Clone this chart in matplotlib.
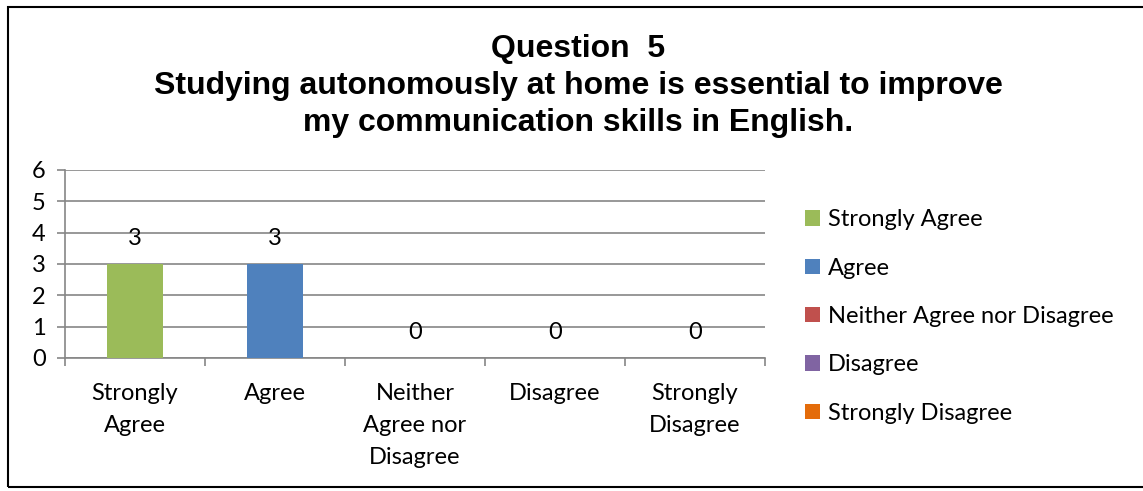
import matplotlib.pyplot as plt
from matplotlib.patches import Rectangle, Patch

categories = ["Strongly Agree", "Agree", "Neither Agree nor Disagree", "Disagree", "Strongly Disagree"]
tick_labels = ["Strongly\nAgree", "Agree", "Neither\nAgree nor\nDisagree", "Disagree", "Strongly\nDisagree"]
counts = [3, 3, 0, 0, 0]
colors = ["#9BBB59", "#4F81BD", "#C0504D", "#8064A2", "#E46C0A"]

body_font = "Lato"
body_size = 17
grid_color = "#868686"

fig = plt.figure(figsize=(11.43, 4.91), dpi=100)

# chart frame
fig.patches.append(Rectangle((8 / 1143, 4 / 491), 1.2, 480 / 491, transform=fig.transFigure,
                             fill=False, edgecolor="black", linewidth=1.5))

ax = fig.add_axes([65 / 1143, 1 - 358 / 491, 700 / 1143, 188 / 491])
x = list(range(len(categories)))
bars = ax.bar(x, counts, width=0.4, color=colors, zorder=3)

for xi, v in zip(x, counts):
    ax.annotate(str(v), (xi, v), xytext=(0, 18.5), textcoords="offset points",
                ha="center", va="center", fontsize=body_size, family=body_font)

ax.set_xlim(-0.5, len(categories) - 0.5)
ax.set_ylim(0, 6)
ax.set_yticks(range(0, 7))
ax.yaxis.grid(True, color=grid_color, linewidth=1.2, zorder=0)
ax.set_xticks([i - 0.5 for i in range(len(categories) + 1)])
ax.set_xticklabels([])
ax.set_xticks(x, minor=True)
ax.set_xticklabels(tick_labels, minor=True, fontsize=body_size, family=body_font, linespacing=1.66, va="top")
ax.tick_params(axis="x", which="minor", length=0, pad=18)
ax.tick_params(axis="x", which="major", length=6, color=grid_color, width=1.2)
ax.tick_params(axis="y", length=6, color=grid_color, width=1.2, pad=8, labelsize=body_size)
for lab in ax.get_yticklabels():
    lab.set_family(body_font)
for side in ["top", "right"]:
    ax.spines[side].set_visible(False)
for side in ["left", "bottom"]:
    ax.spines[side].set_color(grid_color)
    ax.spines[side].set_linewidth(1.2)

handles = [Patch(facecolor=c, edgecolor="none") for c in colors]
fig.legend(handles, categories, loc="upper left", bbox_to_anchor=(784 / 1143, 1 - 188 / 491),
           frameon=False, prop={"family": body_font, "size": body_size},
           handlelength=0.62, handleheight=0.62, handletextpad=0.35, labelspacing=1.16)

fig.text(578 / 1143, 1 - 86 / 491,
         "Question  5\nStudying autonomously at home is essential to improve\nmy communication skills in English.",
         ha="center", va="center", fontsize=23, fontweight="bold",
         family="Liberation Sans", linespacing=1.3)

fig.savefig("out.png", dpi=100)
